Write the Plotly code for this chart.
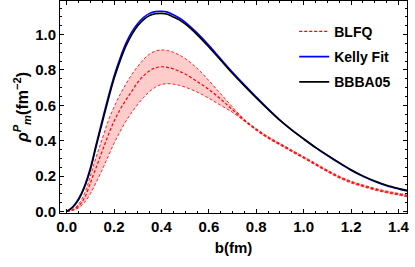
import plotly.graph_objects as go

# b grid (fm)
b = [0, 0.025, 0.05, 0.075, 0.10, 0.125, 0.15, 0.175, 0.20, 0.225, 0.25, 0.275,
     0.30, 0.325, 0.35, 0.375, 0.40, 0.425, 0.45, 0.475, 0.50, 0.55, 0.60, 0.65,
     0.70, 0.75, 0.80, 0.85, 0.90, 0.95, 1.00, 1.05, 1.10, 1.15, 1.20, 1.25,
     1.30, 1.35, 1.40, 1.45]

bbba05 = [0, 0.022, 0.065, 0.135, 0.235, 0.37, 0.50, 0.63, 0.75, 0.85, 0.935, 1.0,
          1.05, 1.085, 1.108, 1.118, 1.12, 1.115, 1.10, 1.083, 1.06, 1.0, 0.93, 0.855,
          0.78, 0.71, 0.642, 0.577, 0.515, 0.46, 0.41, 0.362, 0.318, 0.276, 0.236, 0.201,
          0.172, 0.148, 0.13, 0.115]

kelly = [0, 0.024, 0.07, 0.142, 0.245, 0.382, 0.515, 0.645, 0.765, 0.865, 0.95, 1.015,
         1.063, 1.098, 1.12, 1.13, 1.132, 1.127, 1.112, 1.094, 1.071, 1.01, 0.94, 0.863,
         0.787, 0.716, 0.647, 0.58, 0.517, 0.461, 0.41, 0.361, 0.316, 0.273, 0.233, 0.198,
         0.169, 0.145, 0.127, 0.112]

blfq_mid = [0, 0.008, 0.03, 0.075, 0.16, 0.25, 0.34, 0.43, 0.51, 0.575, 0.63, 0.68,
            0.73, 0.768, 0.795, 0.812, 0.818, 0.815, 0.806, 0.793, 0.777, 0.735, 0.69, 0.635,
            0.575, 0.515, 0.463, 0.418, 0.38, 0.342, 0.305, 0.267, 0.229, 0.194, 0.166, 0.145,
            0.126, 0.11, 0.097, 0.085]

blfq_up = [0, 0.01, 0.04, 0.10, 0.20, 0.31, 0.41, 0.51, 0.59, 0.66, 0.72, 0.775,
           0.82, 0.86, 0.89, 0.907, 0.913, 0.91, 0.90, 0.885, 0.865, 0.81, 0.74, 0.665,
           0.59, 0.52, 0.468, 0.423, 0.385, 0.347, 0.31, 0.272, 0.234, 0.199, 0.171, 0.15,
           0.131, 0.115, 0.102, 0.09]

blfq_lo = [0, 0.005, 0.02, 0.05, 0.10, 0.165, 0.235, 0.31, 0.385, 0.45, 0.51, 0.56,
           0.605, 0.645, 0.678, 0.703, 0.718, 0.722, 0.72, 0.713, 0.703, 0.675, 0.64, 0.60,
           0.56, 0.51, 0.458, 0.413, 0.375, 0.337, 0.3, 0.262, 0.224, 0.189, 0.161, 0.14,
           0.121, 0.105, 0.092, 0.08]

x_ticks = [0.0, 0.2, 0.4, 0.6, 0.8, 1.0, 1.2, 1.4]
y_ticks = [0.0, 0.2, 0.4, 0.6, 0.8, 1.0]

RED = "rgba(255,0,0,0.85)"
DASH = "3px,2px"
FONT = "Liberation Sans, Arial, sans-serif"

fig = go.Figure()

fig.add_trace(go.Scatter(x=b, y=blfq_lo, mode="lines", showlegend=False,
                         line=dict(color=RED, width=1, dash=DASH, shape="spline"), hoverinfo="skip"))
fig.add_trace(go.Scatter(x=b, y=blfq_up, mode="lines", showlegend=False, fill="tonexty",
                         fillcolor="rgba(255,0,0,0.2)",
                         line=dict(color=RED, width=1, dash=DASH, shape="spline"), hoverinfo="skip"))
fig.add_trace(go.Scatter(x=b, y=blfq_mid, mode="lines", name="BLFQ", legendgroup="a",
                         line=dict(color="rgb(255,0,0)", width=1.2, dash=DASH, shape="spline")))
fig.add_trace(go.Scatter(x=b, y=kelly, mode="lines", name="Kelly Fit", legendgroup="b",
                         line=dict(color="rgb(0,0,255)", width=1.6, shape="spline")))
fig.add_trace(go.Scatter(x=b, y=bbba05, mode="lines", name="BBBA05", legendgroup="c",
                         line=dict(color="black", width=1.6, shape="spline")))

axis_common = dict(
    showline=True, linecolor="black", linewidth=1, mirror="allticks",
    ticks="inside", ticklen=4, tickwidth=1, tickcolor="black",
    showgrid=False, zeroline=False, automargin=False,
    tickfont=dict(family=FONT, size=15, color="black", weight="bold"),
    minor=dict(dtick=0.05, ticks="inside", ticklen=2, tickwidth=1, tickcolor="black", showgrid=False),
)

fig.update_xaxes(range=[-0.028, 1.436], tickvals=x_ticks,
                 ticktext=[f"{v:.1f}" for v in x_ticks],
                 title=dict(text="b(fm)", font=dict(family=FONT, size=15, color="black", weight="bold"),
                            standoff=8),
                 **axis_common)
fig.update_yaxes(range=[-0.009, 1.19], tickvals=y_ticks,
                 ticktext=[f"{v:.1f}" for v in y_ticks],
                 title=dict(text="<i>ρ</i><sup><i>P</i></sup><sub><i>m</i></sub>(fm<sup>−2</sup>)",
                            font=dict(family=FONT, size=16, color="black", weight="bold"),
                            standoff=2),
                 **axis_common)

fig.update_layout(
    width=415, height=267,
    margin=dict(l=60, r=8, t=1, b=54),
    plot_bgcolor="white", paper_bgcolor="white",
    legend=dict(x=0.675, y=0.93, xanchor="left", yanchor="top",
                bgcolor="rgba(0,0,0,0)", borderwidth=0,
                font=dict(family=FONT, size=14, color="black", weight="bold"),
                tracegroupgap=4, itemwidth=30),
)

fig.write_html("out.html", config={"displayModeBar": False},
               post_script="document.body.style.margin='0';document.body.style.padding='0';")
